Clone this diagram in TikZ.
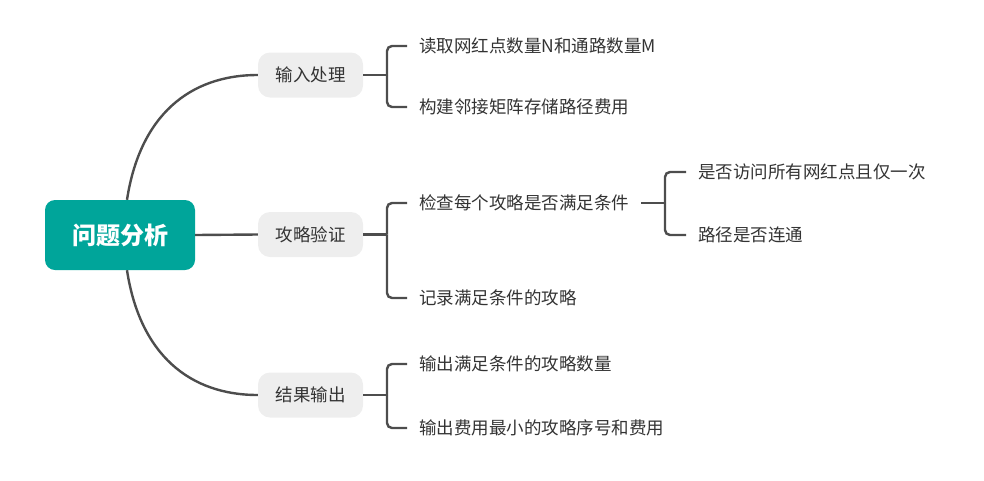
\documentclass[tikz,border=0pt]{standalone}
\usepackage{fontspec}
\newfontfamily\cjk{Noto Sans CJK SC}
\usepackage{xcolor}
\definecolor{rootteal}{HTML}{00A59A}
\definecolor{topicgray}{HTML}{EEEEEE}
\definecolor{linegray}{HTML}{4D4D4D}
\definecolor{txtgray}{HTML}{333333}
\tikzset{
  root/.style={fill=rootteal, text=white, rounded corners=10pt, minimum width=150pt, minimum height=70pt, font=\cjk\bfseries\fontsize{24}{28}\selectfont},
  topic/.style={fill=topicgray, text=txtgray, rounded corners=12pt, minimum width=105pt, minimum height=45pt, font=\cjk\fontsize{17.5}{20}\selectfont},
  leaf/.style={anchor=west, inner xsep=12pt, inner ysep=2pt, text=txtgray, font=\cjk\fontsize{17.5}{20}\selectfont},
  branch/.style={draw=linegray, line width=2.4pt, rounded corners=5pt}
}
\begin{document}
\begin{tikzpicture}[x=1pt, y=-1pt]
            \useasboundingbox (0,0) rectangle (984,480);
            % root and topics
            \node[root] (root) at (120,235) {问题分析};
            \node[topic] (inp) at (310.5,75) {输入处理};
            \node[topic] (ver) at (310.5,234.5) {攻略验证};
            \node[topic] (res) at (310.5,395) {结果输出};
            % leaves
            \node[leaf] (readNM) at (407,46) {读取网红点数量N和通路数量M};
            \node[leaf] (buildMat) at (407,107) {构建邻接矩阵存储路径费用};
            \node[leaf] (check) at (407,203) {检查每个攻略是否满足条件};
            \node[leaf] (record) at (407,298) {记录满足条件的攻略};
            \node[leaf] (visit) at (686,172) {是否访问所有网红点且仅一次};
            \node[leaf] (connect) at (686,235) {路径是否连通};
            \node[leaf] (outCount) at (407,364) {输出满足条件的攻略数量};
            \node[leaf] (outMin) at (407,428) {输出费用最小的攻略序号和费用};
            % forks
            \coordinate (inpFork) at (387,75);
            \coordinate (verFork) at (387,234.5);
            \coordinate (resFork) at (387,395);
            \coordinate (checkFork) at (665,203);
            % connectors
            \draw[branch] ([xshift=7pt]root.north) .. controls (140,115) and (190,75) .. (inp.west);
            \draw[branch] (root.east) -- (ver.west);
            \draw[branch] ([xshift=7pt]root.south) .. controls (140,355) and (190,395) .. (res.west);
            \draw[branch] (inp.east) -- (inpFork);
            \draw[branch] (inpFork) |- (readNM.west);
            \draw[branch] (inpFork) |- (buildMat.west);
            \draw[branch] (ver.east) -- (verFork);
            \draw[branch] (verFork) |- (check.west);
            \draw[branch] (verFork) |- (record.west);
            \draw[branch] (res.east) -- (resFork);
            \draw[branch] (resFork) |- (outCount.west);
            \draw[branch] (resFork) |- (outMin.west);
            \draw[branch] (check.east) -- (checkFork);
            \draw[branch] (checkFork) |- (visit.west);
            \draw[branch] (checkFork) |- (connect.west);
        \end{tikzpicture}
\end{document}
